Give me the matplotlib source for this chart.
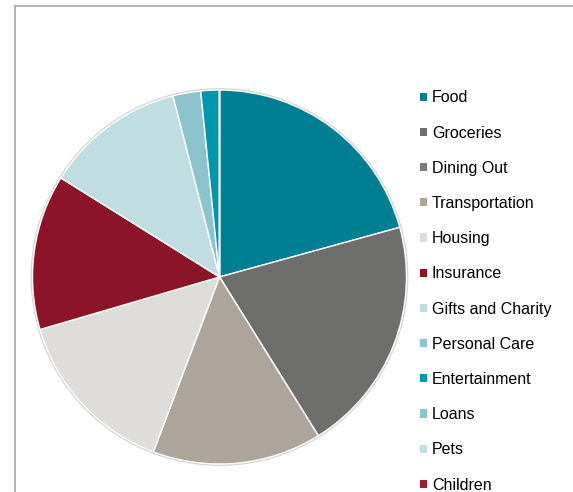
import matplotlib
matplotlib.use("Agg")
import matplotlib.pyplot as plt
from matplotlib.patches import Circle
from matplotlib.lines import Line2D

categories = ["Food", "Groceries", "Dining Out", "Transportation", "Housing",
              "Insurance", "Gifts and Charity", "Personal Care", "Entertainment",
              "Loans", "Pets", "Children"]
values = [20.7, 20.4, 0.0, 14.6, 14.7, 13.4, 12.1, 2.4, 1.6, 0.0, 0.0, 0.0]
colors = ["#007f93", "#6e6f6d", "#7a7a7a", "#ada59c", "#dfddda", "#8b1429",
          "#c0dde2", "#8cc3cd", "#0096ad", "#8cc3cd", "#c2dfe3", "#a31b35"]

plt.rcParams['font.family'] = ['Liberation Sans', 'DejaVu Sans']

W, H = 573, 492
fig = plt.figure(figsize=(W / 100, H / 100), dpi=100)
fig.patch.set_facecolor("white")

cx, cy, r = 219.5, 215, 187 * 1.02
ax = fig.add_axes([(cx - r) / W, (cy - r) / H, 2 * r / W, 2 * r / H])
ax.add_patch(Circle((0, 0), 1.01, facecolor="#d4d4d4", edgecolor="none", zorder=0))
wedges, _ = ax.pie(values, colors=colors, startangle=90, counterclock=False,
                   radius=1.0, wedgeprops=dict(edgecolor="white", linewidth=1.0))
for w in wedges:
    w.set_zorder(2)
ax.set_xlim(-1.02, 1.02)
ax.set_ylim(-1.02, 1.02)
ax.set_aspect("equal")
ax.axis("off")

leg = fig.legend(wedges, categories, loc="upper left",
                 bbox_to_anchor=(414 / W, 1 - 84 / H), frameon=False,
                 fontsize=11.5, handlelength=0.42, handleheight=0.42,
                 handletextpad=0.3, labelspacing=1.265, borderaxespad=0)
for h in leg.legend_handles:
    h.set_edgecolor("none")

# frame lines (top and left)
fig.add_artist(Line2D([15 / W, 1], [1 - 5.5 / H, 1 - 5.5 / H], color="#a8a8a8", lw=1.2,
                      transform=fig.transFigure))
fig.add_artist(Line2D([15 / W, 15 / W], [0, 1 - 5.5 / H], color="#a8a8a8", lw=1.2,
                      transform=fig.transFigure))

fig.savefig("out.png", dpi=100)
